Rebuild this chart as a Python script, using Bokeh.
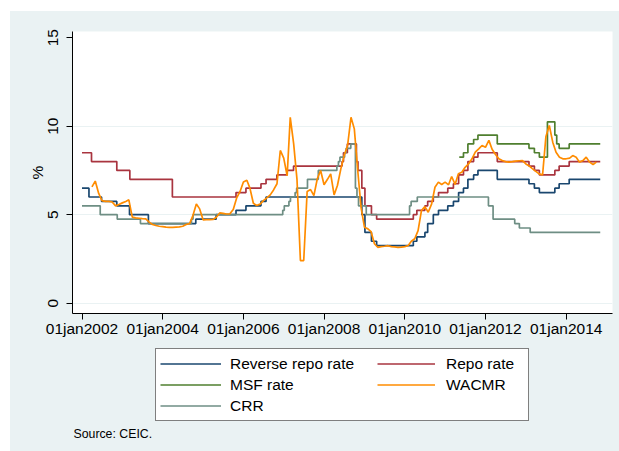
import pandas as pd
from bokeh.plotting import figure
from bokeh.layouts import column, row
from bokeh.models import (FixedTicker, DatetimeTickFormatter, Legend, LegendItem,
                          Label, Range1d, Spacer)
from bokeh.embed import file_html
from bokeh.resources import INLINE

# ---------------- data ----------------
END = "2014-11-05"

rev_repo_dates = ["2002-01-01", "2002-03-05", "2002-06-27", "2002-11-12", "2003-03-07",
                  "2003-08-25", "2004-10-27", "2005-04-29", "2005-10-26", "2006-01-24",
                  "2006-06-09", "2006-07-25", "2008-12-08", "2009-01-05", "2009-03-05",
                  "2009-04-21", "2010-03-19", "2010-04-20", "2010-07-02", "2010-07-27",
                  "2010-09-16", "2010-11-02", "2011-01-25", "2011-03-17", "2011-05-03",
                  "2011-06-16", "2011-07-26", "2011-09-16", "2011-10-25", "2012-04-17",
                  "2013-01-29", "2013-03-19", "2013-05-03", "2013-09-20", "2013-10-29",
                  "2014-01-28", END]
rev_repo_vals = [6.5, 6.0, 5.75, 5.5, 5.0, 4.5, 4.75, 5.0, 5.25, 5.5, 5.75, 6.0, 5.0, 4.0,
                 3.5, 3.25, 3.5, 3.75, 4.0, 4.5, 5.0, 5.25, 5.5, 5.75, 6.25, 6.5, 7.0, 7.25,
                 7.5, 7.0, 6.75, 6.5, 6.25, 6.5, 6.75, 7.0, 7.0]

repo_dates = ["2002-01-01", "2002-03-28", "2002-11-12", "2003-03-10", "2004-03-29",
              "2005-10-26", "2006-01-24", "2006-06-09", "2006-07-25", "2006-10-31",
              "2007-01-31", "2007-03-31", "2008-06-12", "2008-06-25", "2008-07-30",
              "2008-10-20", "2008-11-03", "2008-12-08", "2009-01-05", "2009-03-05",
              "2009-04-21", "2010-03-19", "2010-04-20", "2010-07-02", "2010-07-27",
              "2010-09-16", "2010-11-02", "2011-01-25", "2011-03-17", "2011-05-03",
              "2011-06-16", "2011-07-26", "2011-09-16", "2011-10-25", "2012-04-17",
              "2013-01-29", "2013-03-19", "2013-05-03", "2013-09-20", "2013-10-29",
              "2014-01-28", END]
repo_vals = [8.5, 8.0, 7.5, 7.0, 6.0, 6.25, 6.5, 6.75, 7.0, 7.25, 7.5, 7.75, 8.0, 8.5, 9.0,
             8.0, 7.5, 6.5, 5.5, 5.0, 4.75, 5.0, 5.25, 5.5, 5.75, 6.0, 6.25, 6.5, 6.75,
             7.25, 7.5, 8.0, 8.25, 8.5, 8.0, 7.75, 7.5, 7.25, 7.5, 7.75, 8.0, 8.0]

msf_dates = ["2011-05-09", "2011-06-16", "2011-07-26", "2011-09-16", "2011-10-25",
             "2012-04-17", "2013-01-29", "2013-03-19", "2013-05-03", "2013-07-15",
             "2013-09-20", "2013-10-07", "2013-10-29", "2014-01-28", END]
msf_vals = [8.25, 8.5, 9.0, 9.25, 9.5, 9.0, 8.75, 8.5, 8.25, 10.25, 9.5, 9.0, 8.75, 9.0, 9.0]

crr_dates = ["2002-01-01", "2002-06-15", "2002-11-16", "2003-06-14", "2004-09-18",
             "2004-10-02", "2006-12-23", "2007-01-06", "2007-02-17", "2007-03-03",
             "2007-04-14", "2007-04-28", "2007-08-04", "2007-11-10", "2008-04-26",
             "2008-05-10", "2008-05-24", "2008-07-05", "2008-07-19", "2008-08-30",
             "2008-10-11", "2008-10-25", "2008-11-08", "2009-01-17", "2010-02-13",
             "2010-02-27", "2010-04-24", "2012-01-28", "2012-03-10", "2012-09-22",
             "2012-11-03", "2013-02-09", END]
crr_vals = [5.5, 5.0, 4.75, 4.5, 4.75, 5.0, 5.25, 5.5, 5.75, 6.0, 6.25, 6.5, 7.0, 7.5, 7.75,
            8.0, 8.25, 8.5, 8.75, 9.0, 6.5, 6.0, 5.5, 5.0, 5.5, 5.75, 6.0, 5.5, 4.75, 4.5,
            4.25, 4.0, 4.0]

# WACMR, monthly from Apr 2002 to Oct 2014
wacmr_start, wacmr_end = "2002-04-01", "2014-10-01"
wacmr_vals = [
    6.57, 6.90, 6.20, 5.80, 5.75, 5.75, 5.72, 5.50, 5.58,                    # 2002 Apr-Dec
    5.67, 5.75, 5.84, 4.86, 4.82, 4.80, 4.78, 4.76, 4.58, 4.45, 4.39, 4.35,  # 2003
    4.33, 4.30, 4.29, 4.28, 4.30, 4.31, 4.35, 4.45, 4.50, 4.95, 5.61, 5.33,  # 2004
    4.71, 4.72, 4.72, 4.73, 4.86, 5.10, 5.08, 5.04, 5.05, 5.30, 5.95, 6.30,  # 2005
    6.85, 6.95, 6.50, 5.65, 5.52, 5.60, 5.80, 5.95, 6.12, 6.40, 6.75, 8.63,  # 2006
    8.20, 7.20, 10.50, 9.00, 7.00, 2.41, 2.41, 6.31, 6.42, 6.08, 7.03, 7.50, # 2007
    6.69, 7.00, 7.31, 6.12, 6.65, 7.59, 8.34, 8.91, 10.50, 9.85, 7.50, 5.40, # 2008
    4.29, 4.20, 4.05, 3.36, 3.16, 3.20, 3.22, 3.25, 3.20, 3.18, 3.15, 3.17,  # 2009
    3.20, 3.26, 3.50, 3.64, 4.10, 5.24, 5.46, 5.14, 5.61, 6.55, 6.84, 6.71,  # 2010
    6.84, 6.69, 7.16, 6.71, 7.31, 7.40, 7.68, 7.87, 8.16, 8.53, 8.72, 8.91,  # 2011
    8.81, 9.20, 8.70, 8.40, 8.16, 8.06, 8.00, 7.97, 8.00, 8.03, 8.05, 8.06,  # 2012
    7.87, 7.75, 7.60, 7.45, 7.31, 7.25, 9.40, 10.04, 9.10, 8.53, 8.25, 8.16, # 2013
    8.16, 8.20, 8.34, 8.25, 7.97, 8.06, 8.25, 7.97, 7.84, 7.97,              # 2014 Jan-Oct
]

x_tick_years = [2002, 2004, 2006, 2008, 2010, 2012, 2014]
y_ticks = [0, 5, 10, 15]
y_grid = [0, 5, 10]

colors = {"Reverse repo rate": "#1A476F", "Repo rate": "#A9343F", "MSF rate": "#4F7F2F",
          "WACMR": "#FF8C00", "CRR": "#6E8E84"}
legend_col1 = ["Reverse repo rate", "MSF rate", "CRR"]
legend_col2 = ["Repo rate", "WACMR"]
source_note = "Source: CEIC."

# ---------------- figure ----------------
FONT = "Liberation Sans"
BG = "#EAF2F3"
LW = 1.7


def ms(d):
    return pd.Timestamp(d).value / 1e6


p = figure(width=609, height=334, x_axis_type="datetime", output_backend="svg",
           toolbar_location=None,
           x_range=Range1d(ms("2001-10-07"), ms("2015-02-24")),
           y_range=Range1d(-0.58, 15.35),
           min_border_left=62, min_border_right=7, min_border_top=20, min_border_bottom=32)
p.border_fill_color = BG
p.background_fill_color = "white"
p.outline_line_color = None

p.step(pd.to_datetime(rev_repo_dates), rev_repo_vals, mode="after",
       line_color=colors["Reverse repo rate"], line_width=LW)
p.step(pd.to_datetime(repo_dates), repo_vals, mode="after",
       line_color=colors["Repo rate"], line_width=LW)
p.step(pd.to_datetime(msf_dates), msf_vals, mode="after",
       line_color=colors["MSF rate"], line_width=LW)
p.step(pd.to_datetime(crr_dates), crr_vals, mode="after",
       line_color=colors["CRR"], line_width=LW)
wacmr_dates = pd.date_range(wacmr_start, wacmr_end, freq="MS")
p.line(wacmr_dates, wacmr_vals, line_color=colors["WACMR"], line_width=LW)

# axes
p.xgrid.visible = False
p.ygrid.ticker = FixedTicker(ticks=y_grid)
p.ygrid.grid_line_color = BG
p.ygrid.grid_line_width = 1

for ax in (p.xaxis[0], p.yaxis[0]):
    ax.axis_line_color = "black"
    ax.axis_line_width = 1
    ax.major_tick_line_color = "black"
    ax.major_tick_out = 6
    ax.major_tick_in = 0
    ax.minor_tick_line_color = None
    ax.major_label_text_font = FONT
    ax.major_label_text_font_size = "15.5px"
    ax.major_label_text_color = "black"
    ax.axis_label_text_font = FONT
    ax.axis_label_text_font_size = "15.5px"
    ax.axis_label_text_font_style = "normal"
    ax.axis_label_text_color = "black"

p.xaxis.ticker = FixedTicker(ticks=[ms(f"{y}-01-01") for y in x_tick_years])
fmt = "%djan%Y"
p.xaxis.formatter = DatetimeTickFormatter(years=fmt, months=fmt, days=fmt, hours=fmt,
                                          minutes=fmt, seconds=fmt, milliseconds=fmt,
                                          microseconds=fmt, context=None)
p.xaxis.major_label_standoff = 0

p.yaxis.ticker = FixedTicker(ticks=y_ticks)
p.yaxis.major_label_orientation = "vertical"
p.yaxis.major_label_standoff = 8
p.yaxis.axis_label = "%"
p.yaxis.axis_label_standoff = 0

# ---------------- legend / note panel (frame is aligned with the plot frame) ----------------
q = figure(width=609, height=106, output_backend="svg", toolbar_location=None,
           x_axis_location=None, y_axis_location=None,
           x_range=Range1d(0, 1), y_range=Range1d(0, 1),
           min_border_left=62, min_border_right=7, min_border_top=0, min_border_bottom=0)
q.border_fill_color = BG
q.background_fill_color = None
q.outline_line_color = None
q.grid.visible = False

# legend keys: one-point lines (draw nothing) that carry the line styles
nan = float("nan")
keys = {name: q.line(x=[0.5], y=[nan], line_color=c, line_width=LW)
        for name, c in colors.items()}

common = dict(label_text_font=FONT, label_text_font_size="15.5px", label_text_color="black",
              glyph_height=21, label_height=21, spacing=0, padding=4, margin=0,
              orientation="vertical")
legA = Legend(items=[LegendItem(label=n, renderers=[keys[n]]) for n in legend_col1],
              location=(83, 30), glyph_width=61, label_standoff=9, label_width=294,
              border_line_color="black", border_line_width=1,
              background_fill_color="white", background_fill_alpha=1.0, **common)
legB = Legend(items=[LegendItem(label=n, renderers=[keys[n]]) for n in legend_col2],
              location=(305, 56), glyph_width=58, label_standoff=11, label_width=20,
              border_line_color=None, background_fill_alpha=0.0, **common)
q.add_layout(legA, "center")
q.add_layout(legB, "center")

q.add_layout(Label(x=1, y=18, x_units="screen", y_units="screen", text=source_note,
                   text_font=FONT, text_font_size="12.3px", text_color="black",
                   text_baseline="middle"))

inner = column(p, q, spacing=0, styles={"background-color": BG})
layout = column(Spacer(height=11),
                row(Spacer(width=10), inner, spacing=0),
                spacing=0)

open("out.html", "w").write(file_html(layout, INLINE))
